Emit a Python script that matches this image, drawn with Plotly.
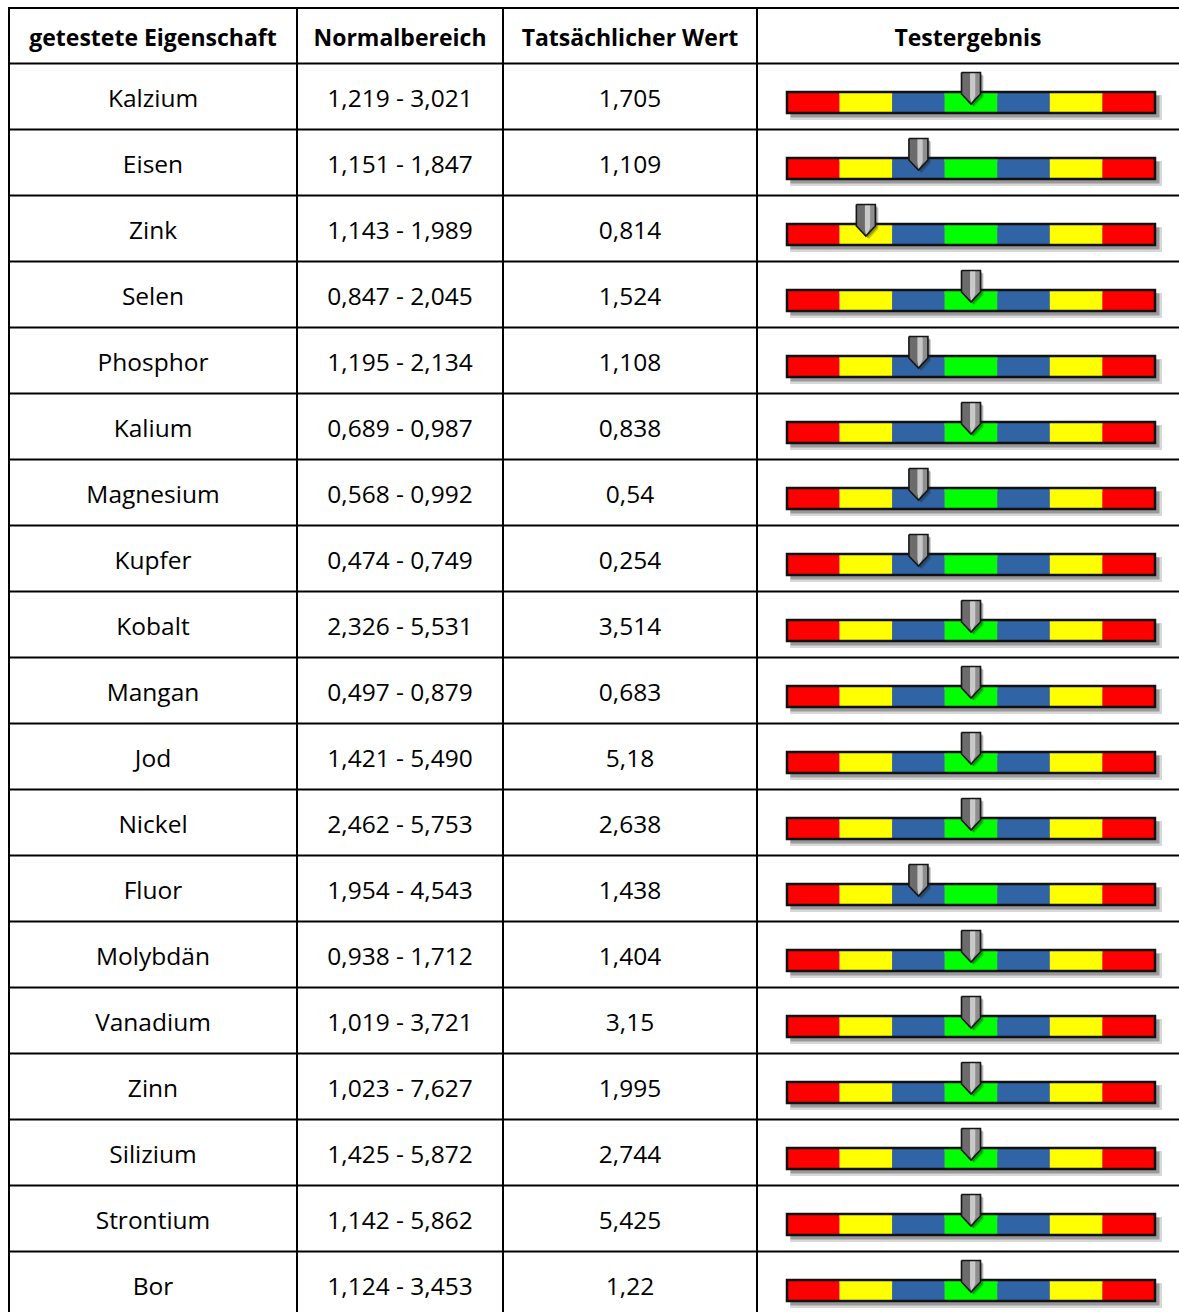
import plotly.graph_objects as go

# ---------------- data ----------------
headers = ["getestete Eigenschaft", "Normalbereich", "Tatsächlicher Wert", "Testergebnis"]
properties = ["Kalzium", "Eisen", "Zink", "Selen", "Phosphor", "Kalium", "Magnesium",
              "Kupfer", "Kobalt", "Mangan", "Jod", "Nickel", "Fluor", "Molybdän",
              "Vanadium", "Zinn", "Silizium", "Strontium", "Bor"]
normal_ranges = ["1,219 - 3,021", "1,151 - 1,847", "1,143 - 1,989", "0,847 - 2,045",
                 "1,195 - 2,134", "0,689 - 0,987", "0,568 - 0,992", "0,474 - 0,749",
                 "2,326 - 5,531", "0,497 - 0,879", "1,421 - 5,490", "2,462 - 5,753",
                 "1,954 - 4,543", "0,938 - 1,712", "1,019 - 3,721", "1,023 - 7,627",
                 "1,425 - 5,872", "1,142 - 5,862", "1,124 - 3,453"]
actual_values = ["1,705", "1,109", "0,814", "1,524", "1,108", "0,838", "0,54", "0,254",
                 "3,514", "0,683", "5,18", "2,638", "1,438", "1,404", "3,15", "1,995",
                 "2,744", "5,425", "1,22"]
# index of the scale zone the pointer sits in (0..6)
result_zone = [3, 2, 1, 3, 2, 3, 2, 2, 3, 3, 3, 3, 2, 3, 3, 3, 3, 3, 3]
zone_colors = ["#ff0000", "#ffff00", "#3064a4", "#00ff00", "#3064a4", "#ffff00", "#ff0000"]

# ---------------- layout constants (pixels) ----------------
W, H = 1179, 1312
col_edges = [9, 297, 503, 757, W]
header_top = 8.0
header_bottom = 63.5
row_h = 66.0
bar_left, bar_right = 787.0, 1155.0
n_zones = len(zone_colors)
zone_px = (bar_right - bar_left) / n_zones
pad_px = 20.0

def py(p):
    """pixel y -> row units"""
    return (p - header_bottom) / row_h

n = len(properties)
FONT = "Open Sans"

fig = go.Figure()

# ---------- text cells ----------
col_centers = [(col_edges[i] + col_edges[i + 1]) / 2 for i in range(4)]
row_y = [i + 0.5 + 4.5 / row_h for i in range(n)]
for ci, col in enumerate([properties, normal_ranges, actual_values]):
    fig.add_trace(go.Scatter(
        x=[col_centers[ci]] * n, y=row_y, mode="text", text=col,
        textfont=dict(family=FONT, size=24.5, color="#000000"),
        xaxis="x", yaxis="y", hoverinfo="skip", showlegend=False, cliponaxis=False))
fig.add_trace(go.Scatter(
    x=col_centers, y=[py((header_top + header_bottom) / 2 + 4.0)] * 4, mode="text",
    text=["<b>%s</b>" % h for h in headers],
    textfont=dict(family=FONT, size=23, color="#000000"),
    xaxis="x", yaxis="y", hoverinfo="skip", showlegend=False, cliponaxis=False))

# ---------- indicator scale ----------
bar_center_off = (39.0) / row_h      # from row top
bar_w = 21.0 / row_h
rows = list(range(n))
bar_y = [r + bar_center_off for r in rows]

# shadow (soft, two layers)
for dx, dy, extra, op in [(5, 5, 4, 0.18), (4, 4, 1, 0.35)]:
    fig.add_trace(go.Bar(
        orientation="h", y=[b + dy / row_h for b in bar_y], x=[n_zones + extra / zone_px] * n,
        base=[(dx - extra / 2) / zone_px] * n, width=(21.0 + extra) / row_h,
        marker=dict(color="rgba(40,40,40,%.2f)" % op, line=dict(width=0)),
        xaxis="x2", yaxis="y", hoverinfo="skip", showlegend=False))

# coloured zones
zy, zx, zb, zc = [], [], [], []
for r in rows:
    for z in range(n_zones):
        zy.append(bar_y[r]); zx.append(1); zb.append(z); zc.append(zone_colors[z])
fig.add_trace(go.Bar(
    orientation="h", y=zy, x=zx, base=zb, width=bar_w,
    marker=dict(color=zc, line=dict(width=0)),
    xaxis="x2", yaxis="y", hoverinfo="skip", showlegend=False))
# outline
fig.add_trace(go.Bar(
    orientation="h", y=bar_y, x=[n_zones] * n, base=[0] * n, width=bar_w,
    marker=dict(color="rgba(0,0,0,0)", line=dict(width=2.5, color="#111111")),
    xaxis="x2", yaxis="y", hoverinfo="skip", showlegend=False))

# ---------- pointers ----------
hw = 9.5 / zone_px
top_off = 9.0 / row_h
body_off = 30.5 / row_h
tip_off = 40.5 / row_h

def poly(xs_rel, ys_rel, dx=0.0, dy=0.0):
    X, Y = [], []
    for r, z in zip(rows, result_zone):
        cx = z + 0.5
        for a, b in zip(xs_rel, ys_rel):
            X.append(cx + a + dx / zone_px)
            Y.append(r + b + dy / row_h)
        X.append(None); Y.append(None)
    return X, Y

outline_x = [-hw, hw, hw, 0, -hw, -hw]
outline_y = [top_off, top_off, body_off, tip_off, body_off, top_off]

# pointer shadow
for d, op in [(3, 0.22), (2, 0.3)]:
    X, Y = poly(outline_x, outline_y, d, d)
    fig.add_trace(go.Scatter(x=X, y=Y, mode="lines", fill="toself",
                             fillcolor="rgba(30,30,30,%.2f)" % op, line=dict(width=0),
                             xaxis="x2", yaxis="y", hoverinfo="skip", showlegend=False))
# base body (right part mid grey)
X, Y = poly(outline_x, outline_y)
fig.add_trace(go.Scatter(x=X, y=Y, mode="lines", fill="toself", fillcolor="#8e8e8e",
                         line=dict(width=0), xaxis="x2", yaxis="y",
                         hoverinfo="skip", showlegend=False))
# dark left part
lx = [-hw, -0.1 * hw, -0.1 * hw, 0, -hw, -hw]
ly = [top_off, top_off, body_off + 0.3 * (tip_off - body_off), tip_off, body_off, top_off]
X, Y = poly(lx, ly)
fig.add_trace(go.Scatter(x=X, y=Y, mode="lines", fill="toself", fillcolor="#6c6c6c",
                         line=dict(width=0), xaxis="x2", yaxis="y",
                         hoverinfo="skip", showlegend=False))
# highlight stripe
sx = [-0.1 * hw, 0.45 * hw, 0.45 * hw, 0.05 * hw, -0.1 * hw, -0.1 * hw]
sy = [top_off, top_off, body_off + 0.15 * (tip_off - body_off), tip_off - 0.1 / row_h,
      body_off + 0.3 * (tip_off - body_off), top_off]
X, Y = poly(sx, sy)
fig.add_trace(go.Scatter(x=X, y=Y, mode="lines", fill="toself", fillcolor="#c9c9c9",
                         line=dict(width=0), xaxis="x2", yaxis="y",
                         hoverinfo="skip", showlegend=False))
# outline
X, Y = poly(outline_x, outline_y)
fig.add_trace(go.Scatter(x=X, y=Y, mode="lines", line=dict(width=1.6, color="#151515"),
                         xaxis="x2", yaxis="y", hoverinfo="skip", showlegend=False))

# ---------- grid lines ----------
shapes = []
line = dict(color="#000000", width=2)
y_top = py(header_top)
y_bot = py(H + 10)
shapes.append(dict(type="line", xref="x", yref="y", x0=col_edges[0] - 1, x1=W,
                   y0=y_top, y1=y_top, line=line))
for r in range(0, n + 1):
    shapes.append(dict(type="line", xref="x", yref="y", x0=col_edges[0] - 1, x1=W,
                       y0=r, y1=r, line=line))
for cx in col_edges[:-1]:
    shapes.append(dict(type="line", xref="x", yref="y", x0=cx, x1=cx,
                       y0=y_top, y1=y_bot, line=line))

x2_range = [-pad_px / zone_px, n_zones + pad_px / zone_px]
fig.update_layout(
    width=W, height=H, margin=dict(l=0, r=0, t=0, b=0),
    paper_bgcolor="white", plot_bgcolor="rgba(0,0,0,0)",
    barmode="overlay", showlegend=False, hovermode=False,
    shapes=shapes,
    xaxis=dict(range=[0, W], domain=[0, 1], visible=False, fixedrange=True),
    xaxis2=dict(range=x2_range, domain=[(bar_left - pad_px) / W, (bar_right + pad_px) / W],
                anchor="y", visible=False, fixedrange=True),
    yaxis=dict(range=[py(H), py(0)], domain=[0, 1], visible=False, fixedrange=True),
)

fig.write_html("out.html", config={"displayModeBar": False, "staticPlot": True},
               post_script="document.body.style.margin='0';")
